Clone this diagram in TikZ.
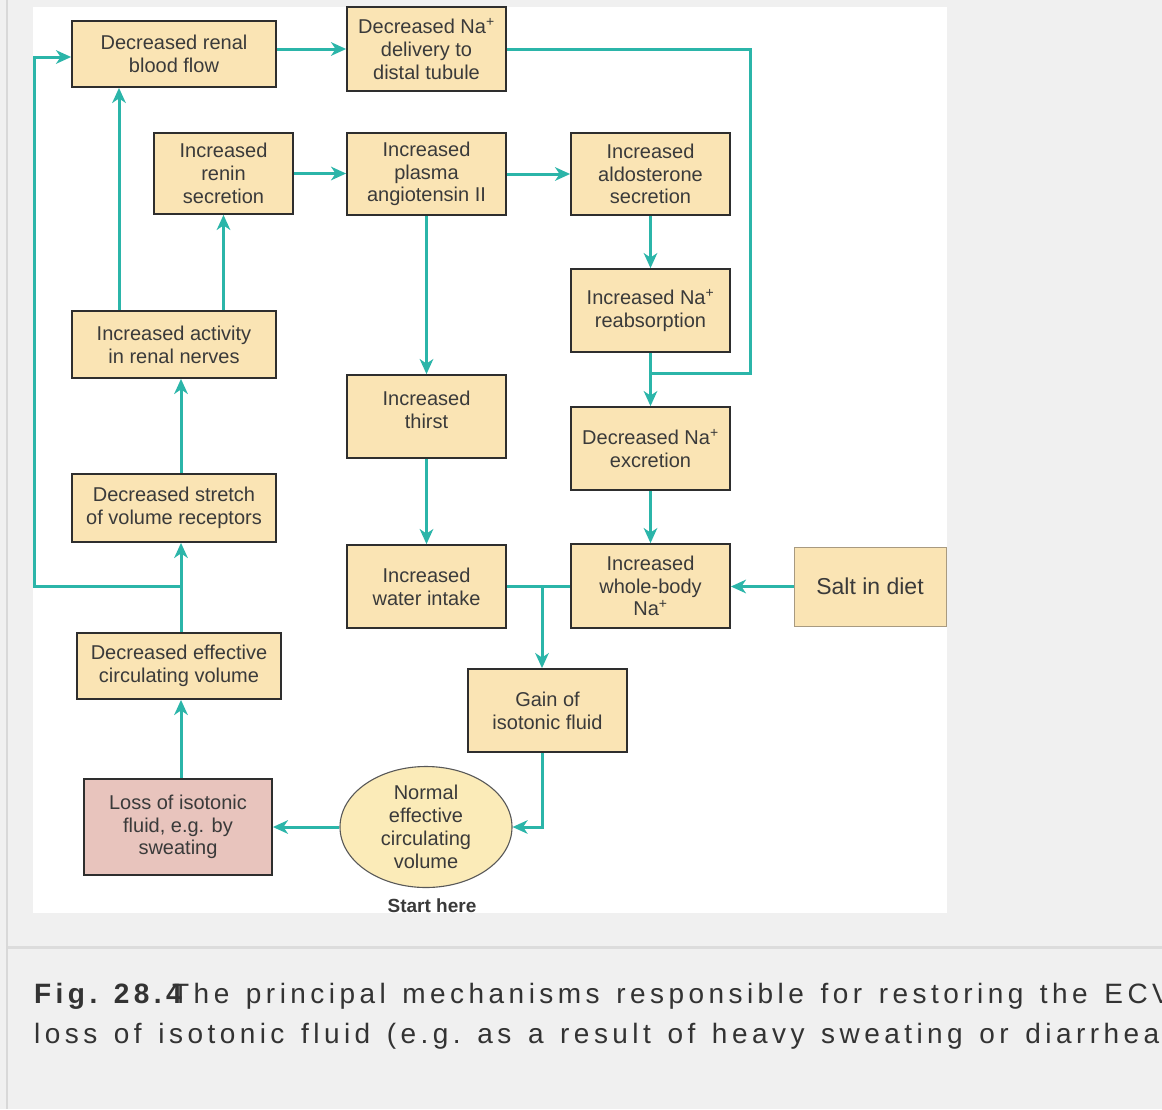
\documentclass[tikz,border=0pt]{standalone}
\usepackage{fontspec}
\setmainfont{Liberation Sans}
\newfontfamily\capfont{Liberation Sans}[LetterSpace=15.9]
\usetikzlibrary{arrows.meta,shapes.geometric,calc}
\definecolor{bg}{HTML}{F0F0F0}
\definecolor{sepgray}{HTML}{D8D8D8}
\definecolor{boxfill}{HTML}{FAE4B4}
\definecolor{pinkfill}{HTML}{E8C4BD}
\definecolor{ellfill}{HTML}{FBEBB8}
\definecolor{tealc}{HTML}{2BB5A9}
\definecolor{txt}{HTML}{3A3A3A}
\definecolor{captxt}{HTML}{333333}
\definecolor{bordc}{HTML}{2E2E2E}
\definecolor{saltbord}{HTML}{A89A80}
\newcommand{\cspc}{\ \kern4.4pt}
\begin{document}
\begin{tikzpicture}[x=1pt,y=-1pt,
  box/.style={draw=bordc, line width=1.8pt, fill=boxfill, inner sep=0pt, align=center, text=txt, font=\fontsize{20}{22.8}\selectfont},
  pinkbox/.style={box, fill=pinkfill},
  saltbox/.style={draw=saltbord, line width=1pt, fill=boxfill, inner sep=0pt, align=center, text=txt, font=\fontsize{23}{26}\selectfont},
  ellbox/.style={ellipse, draw=bordc!80, line width=1.1pt, fill=ellfill, inner sep=0pt, align=center, text=txt, font=\fontsize{20}{23}\selectfont},
  arr/.style={draw=tealc, line width=3pt, -{Stealth[length=15pt,width=13.5pt,inset=4.5pt]}},
  lin/.style={draw=tealc, line width=3pt},
  captext/.style={anchor=base west, inner sep=0pt, text=captxt, font=\capfont\fontsize{28}{34}\selectfont},
]
\useasboundingbox (0,0) rectangle (1162,1109);
\clip (0,0) rectangle (1162,1109);
\fill[bg] (0,0) rectangle (1162,1109);
\fill[white] (33,7) rectangle (946.5,912.5);
\fill[sepgray] (5.5,0) rectangle (8,1109);
\fill[sepgray!90] (8,945.5) rectangle (1162,948.5);

% nodes
\node[box, minimum width=204pt, minimum height=66pt] (rbf) at (174,54) {Decreased renal\\blood flow};
\node[box, minimum width=159pt, minimum height=84pt] (nad) at (426.5,49) {Decreased Na\textsuperscript{+}\\delivery to\\distal tubule};
\node[box, minimum width=139pt, minimum height=81pt] (ren) at (223.5,173.5) {Increased\\renin\\secretion};
\node[box, minimum width=159pt, minimum height=82pt] (ang) at (426.5,174) {Increased\\plasma\\angiotensin II};
\node[box, minimum width=159pt, minimum height=82pt] (ald) at (650.5,174) {Increased\\aldosterone\\secretion};
\node[box, minimum width=159pt, minimum height=83pt] (rea) at (650.5,310.5) {Increased Na\textsuperscript{+}\\reabsorption};
\node[box, minimum width=159pt, minimum height=83pt] (exc) at (650.5,448.5) {Decreased Na\textsuperscript{+}\\excretion};
\node[box, minimum width=159pt, minimum height=84pt] (wbn) at (650.5,586) {Increased\\whole-body\\Na\textsuperscript{+}};
\node[saltbox, minimum width=152pt, minimum height=79pt] (salt) at (870,586.5) {Salt in diet};
\node[box, minimum width=204pt, minimum height=67pt] (nerv) at (174,344.5) {Increased activity\\in renal nerves};
\node[box, minimum width=159pt, minimum height=83pt, text depth=14pt] (thir) at (426.5,416.5) {Increased\\thirst};
\node[box, minimum width=204pt, minimum height=68pt] (str) at (174,508) {Decreased stretch\\of volume receptors};
\node[box, minimum width=159pt, minimum height=83pt] (wat) at (426.5,586.5) {Increased\\water intake};
\node[box, minimum width=204pt, minimum height=66pt] (dec) at (179,666) {Decreased effective\\circulating volume};
\node[box, minimum width=159pt, minimum height=83pt] (gain) at (547.5,710.5) {Gain of\\isotonic fluid};
\node[ellbox, minimum width=172pt, minimum height=121pt] (ell) at (426,827) {Normal\\effective\\circulating\\volume};
\node[pinkbox, minimum width=188pt, minimum height=96pt] (loss) at (178,827) {Loss of isotonic\\fluid, e.g. by\\sweating};
\node[inner sep=0pt, text=txt, font=\bfseries\fontsize{19}{22}\selectfont] (start) at (432,906) {Start here};

% helper coordinates
\coordinate (cx) at (181,0);
\coordinate (lx) at (34.5,0);
\coordinate (rx) at (750,0);
\coordinate (jn) at (650.5,373);
\coordinate (jl) at (181,586);
\coordinate (rbfin) at ([yshift=-3pt]rbf.west);

% connectors
\draw[arr] ([xshift=-55pt]nerv.north) -- ([xshift=-55pt]rbf.south);
\draw[arr] (ren.south |- nerv.north) -- (ren.south);
\draw[arr] (rbf.east |- nad.west) -- (nad.west);
\draw[arr] (ren.east) -- (ang.west |- ren.east);
\draw[arr] (ang.east) -- (ald.west);
\draw[arr] (ang.south) -- (thir.north);
\draw[arr] (thir.south) -- (wat.north);
\draw[arr] (ald.south) -- (rea.north);
\draw[arr] (rea.south) -- (exc.north);
\draw[lin] (nad.east) -- (nad.east -| rx) -- (rx |- jn) -- (jn);
\draw[arr] (exc.south) -- (wbn.north);
\draw[arr] (salt.west) -- (wbn.east |- salt.west);
\draw[lin] (wat.east |- wbn.west) -- (wbn.west);
\draw[arr] ([xshift=-5.5pt]gain.north |- wbn.west) -- ([xshift=-5.5pt]gain.north);
\draw[arr] ([xshift=-5.5pt]gain.south) |- (ell.east);
\draw[arr] (ell.west) -- (loss.east);
\draw[arr] (loss.north -| cx) -- (dec.south -| cx);
\draw[arr] (dec.north -| cx) -- (str.south -| cx);
\draw[arr] (str.north -| cx) -- (nerv.south -| cx);
\draw[arr] (jl) -- (jl -| lx) -- (lx |- rbfin) -- (rbfin);

% caption
\node[captext] (cap0) at (34,1003) {\bfseries Fig.\cspc 28.4};
\node[captext] (cap1) at (172,1003) {The\cspc principal\cspc mechanisms\cspc responsible\cspc for\cspc restoring\cspc the\cspc ECV};
\node[captext] (cap2) at (34,1043) {loss\cspc of\cspc isotonic\cspc fluid\cspc (e.g.\cspc as\cspc a\cspc result\cspc of\cspc heavy\cspc sweating\cspc or\cspc diarrhea};
\end{tikzpicture}
\end{document}
